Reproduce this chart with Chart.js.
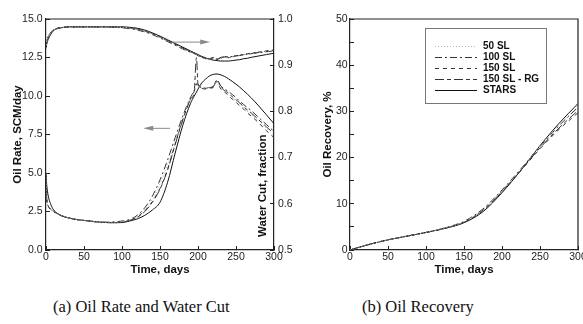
<!DOCTYPE html>
<html>
<head>
<meta charset="utf-8">
<script src="https://cdn.jsdelivr.net/npm/chart.js@4.4.1/dist/chart.umd.min.js"></script>
<style>
  body { margin: 0; background: #fff; width: 583px; height: 324px; position: relative; overflow: hidden; }
  canvas { position: absolute; top: 0; }
  #rateChart { left: 0; }
  #recChart { left: 300px; }
  .cap { position: absolute; top: 297px; line-height: 20px; font: 16.5px "Liberation Serif", "Times New Roman", serif; color: #111; white-space: nowrap; }
</style>
</head>
<body>
<canvas id="rateChart" width="300" height="280"></canvas>
<canvas id="recChart" width="283" height="280"></canvas>
<div class="cap" style="left:53px">(a) Oil Rate and Water Cut</div>
<div class="cap" style="left:362px">(b) Oil Recovery</div>

<script>
// time grid for oil rate / water cut, days
const days = [0, 1, 3, 6, 10, 15, 20, 30, 40, 50, 60, 70, 80, 90, 100, 110, 120, 130, 140, 150, 160, 170, 180, 190, 195, 198, 200, 205, 210, 215, 220, 225, 230, 235, 240, 245, 250, 255, 260, 265, 270, 280, 290, 300];

// oil rate, SCM/day
const rate50    = [4.9, 3.3, 2.85, 2.65, 2.5, 2.36, 2.23, 2.08, 1.98, 1.92, 1.86, 1.82, 1.8, 1.8, 1.84, 1.96, 2.2, 2.65, 3.3, 4.3, 5.55, 7.1, 8.6, 9.85, 10.3, 10.8, 10.72, 10.5, 10.45, 10.5, 10.55, 10.95, 10.5, 10.35, 10.15, 9.9, 9.7, 9.5, 9.25, 9.0, 8.8, 8.35, 7.9, 7.45];
const rate100   = [4.9, 3.3, 2.85, 2.65, 2.5, 2.36, 2.23, 2.08, 1.98, 1.92, 1.87, 1.83, 1.81, 1.83, 1.88, 1.98, 2.25, 2.75, 3.5, 4.55, 5.85, 7.3, 8.7, 9.9, 10.35, 10.8, 10.75, 10.55, 10.5, 10.55, 10.6, 11.0, 10.65, 10.45, 10.3, 10.1, 9.9, 9.65, 9.45, 9.25, 9.05, 8.6, 8.15, 7.7];
const rate150   = [4.9, 3.3, 2.85, 2.65, 2.5, 2.36, 2.23, 2.08, 1.98, 1.92, 1.86, 1.81, 1.78, 1.78, 1.8, 1.93, 2.15, 2.55, 3.15, 4.0, 5.25, 6.9, 8.5, 9.8, 10.3, 10.75, 10.7, 10.5, 10.45, 10.5, 10.55, 10.95, 10.45, 10.25, 10.05, 9.8, 9.6, 9.35, 9.15, 8.9, 8.7, 8.25, 7.75, 7.3];
const rate150rg = [4.9, 3.3, 2.85, 2.65, 2.5, 2.36, 2.23, 2.08, 1.98, 1.92, 1.86, 1.81, 1.78, 1.78, 1.8, 1.92, 2.12, 2.5, 3.1, 3.95, 5.2, 6.85, 8.45, 9.75, 10.3, 12.5, 10.75, 10.55, 10.5, 10.55, 10.6, 11.05, 10.6, 10.35, 10.2, 9.95, 9.75, 9.55, 9.3, 9.1, 8.9, 8.45, 8.0, 7.55];
const rateStars = [4.9, 4.2, 3.5, 3.0, 2.6, 2.38, 2.24, 2.08, 1.98, 1.92, 1.86, 1.81, 1.78, 1.77, 1.78, 1.88, 2.02, 2.25, 2.6, 3.1, 4.4, 6.3, 8.1, 9.5, 10.0, 10.25, 10.45, 10.85, 11.1, 11.3, 11.4, 11.43, 11.37, 11.27, 11.12, 10.95, 10.77, 10.57, 10.35, 10.12, 9.88, 9.35, 8.78, 8.2];

// water cut, fraction
const cut50    = [0.937, 0.950, 0.962, 0.970, 0.976, 0.980, 0.981, 0.983, 0.983, 0.983, 0.983, 0.983, 0.983, 0.983, 0.982, 0.980, 0.977, 0.973, 0.967, 0.960, 0.952, 0.944, 0.936, 0.929, 0.925, 0.923, 0.921, 0.917, 0.914, 0.913, 0.915, 0.912, 0.915, 0.918, 0.917, 0.918, 0.920, 0.921, 0.922, 0.924, 0.925, 0.927, 0.930, 0.932];
const cut100   = [0.937, 0.950, 0.962, 0.970, 0.976, 0.980, 0.981, 0.983, 0.983, 0.983, 0.983, 0.983, 0.983, 0.982, 0.981, 0.979, 0.976, 0.972, 0.966, 0.959, 0.951, 0.943, 0.935, 0.928, 0.925, 0.923, 0.921, 0.918, 0.915, 0.914, 0.917, 0.913, 0.915, 0.918, 0.918, 0.919, 0.920, 0.921, 0.922, 0.924, 0.925, 0.927, 0.929, 0.931];
const cut150   = [0.937, 0.950, 0.962, 0.970, 0.976, 0.980, 0.981, 0.983, 0.983, 0.983, 0.983, 0.983, 0.983, 0.983, 0.982, 0.981, 0.978, 0.974, 0.968, 0.961, 0.953, 0.945, 0.937, 0.929, 0.925, 0.923, 0.921, 0.917, 0.914, 0.913, 0.916, 0.912, 0.916, 0.919, 0.917, 0.918, 0.920, 0.922, 0.923, 0.924, 0.925, 0.928, 0.930, 0.932];
const cut150rg = [0.937, 0.950, 0.962, 0.970, 0.976, 0.980, 0.981, 0.983, 0.983, 0.983, 0.983, 0.983, 0.983, 0.983, 0.982, 0.981, 0.978, 0.973, 0.969, 0.961, 0.953, 0.945, 0.937, 0.929, 0.926, 0.924, 0.921, 0.918, 0.915, 0.912, 0.914, 0.913, 0.917, 0.918, 0.916, 0.919, 0.921, 0.921, 0.923, 0.925, 0.926, 0.928, 0.931, 0.933];
const cutStars = [0.937, 0.946, 0.956, 0.966, 0.975, 0.979, 0.981, 0.983, 0.983, 0.983, 0.983, 0.983, 0.983, 0.983, 0.983, 0.982, 0.980, 0.976, 0.970, 0.963, 0.955, 0.947, 0.939, 0.931, 0.927, 0.925, 0.923, 0.919, 0.916, 0.913, 0.911, 0.910, 0.909, 0.909, 0.909, 0.910, 0.911, 0.912, 0.914, 0.915, 0.917, 0.920, 0.923, 0.926];

// oil recovery, %
const recDays     = [0, 25, 50, 75, 100, 125, 150, 175, 200, 225, 250, 275, 300];
const rec50       = [0, 1.2, 2.2, 3.0, 3.8, 4.8, 6.1, 8.7, 12.8, 17.5, 22.5, 27.0, 31.2];
const rec100      = [0, 1.2, 2.2, 3.0, 3.8, 4.8, 6.2, 8.9, 13.0, 17.6, 22.4, 26.9, 30.9];
const rec150      = [0, 1.2, 2.2, 3.0, 3.8, 4.7, 6.0, 8.6, 12.6, 17.2, 21.9, 26.1, 29.7];
const rec150rg    = [0, 1.2, 2.2, 3.0, 3.8, 4.7, 6.0, 8.6, 12.7, 17.3, 22.1, 26.4, 30.2];
const recStars    = [0, 1.2, 2.2, 3.0, 3.8, 4.7, 5.9, 8.3, 12.4, 17.3, 22.6, 27.4, 31.7];

const seriesLabels = ["50 SL", "100 SL", "150 SL", "150 SL - RG", "STARS"];
const xTicks = [0, 50, 100, 150, 200, 250, 300];

const seriesStyle = [
    { color: "#b5b5b5", dash: [1, 2] },
    { color: "#333", dash: [7, 3, 2, 3] },
    { color: "#333", dash: [4, 4] },
    { color: "#333", dash: [9, 3, 4, 3] },
    { color: "#111", dash: [] }
];

const sans = "'Liberation Sans', Arial, Helvetica, sans-serif";
const tickFont = { family: sans, size: 10.5 };
const titleFont = { family: sans, size: 11.5, weight: "bold" };
const ink = "#222";

function pts(xs, ys) {
    return xs.map((x, i) => ({ x: x, y: ys[i] }));
}

function lineSet(i, xs, ys, axis) {
    return {
        label: seriesLabels[i],
        data: pts(xs, ys),
        yAxisID: axis,
        borderColor: seriesStyle[i].color,
        borderDash: seriesStyle[i].dash,
        borderWidth: 1,
        pointRadius: 0,
        fill: false,
        cubicInterpolationMode: "monotone"
    };
}

// x axis shared by both panels
function timeAxis() {
    return {
        type: "linear",
        min: 0,
        max: 300,
        afterBuildTicks: s => { s.ticks = xTicks.map(v => ({ value: v })); },
        ticks: { font: tickFont, color: ink, padding: 5, maxRotation: 0 },
        grid: { drawOnChartArea: false, tickLength: -4, color: ink },
        border: { color: ink, width: 1.2 },
        title: { display: true, text: "Time, days", font: titleFont, color: "#111", padding: { top: 0, bottom: 3 } },
        afterFit: s => { s.height = 30; s.paddingLeft = 0; s.paddingRight = 0; }
    };
}

// closes the plot box on top (and right when asked)
const framePlugin = {
    id: "frame",
    afterDraw(chart, args, opts) {
        const { ctx, chartArea: a } = chart;
        ctx.save();
        ctx.strokeStyle = ink;
        ctx.lineWidth = 1.2;
        ctx.beginPath();
        ctx.moveTo(a.left, a.top);
        ctx.lineTo(a.right, a.top);
        if (opts.right) ctx.lineTo(a.right, a.bottom);
        ctx.stroke();
        ctx.restore();
    }
};

// arrows pointing each curve family to its axis
const arrowPlugin = {
    id: "arrows",
    afterDatasetsDraw(chart, args, opts) {
        const { ctx, scales } = chart;
        const x = scales.x, y = scales.y;
        ctx.save();
        ctx.strokeStyle = "#8a8a8a";
        ctx.fillStyle = "#8a8a8a";
        ctx.lineWidth = 1;
        for (const a of opts.items) {
            const x0 = x.getPixelForValue(a.from[0]), y0 = y.getPixelForValue(a.from[1]);
            const x1 = x.getPixelForValue(a.to[0]), y1 = y.getPixelForValue(a.to[1]);
            const dir = Math.sign(x1 - x0);
            ctx.beginPath();
            ctx.moveTo(x0, y0);
            ctx.lineTo(x1 - dir * 8, y1);
            ctx.stroke();
            ctx.beginPath();
            ctx.moveTo(x1, y1);
            ctx.lineTo(x1 - dir * 10, y1 - 2.5);
            ctx.lineTo(x1 - dir * 10, y1 + 2.5);
            ctx.closePath();
            ctx.fill();
        }
        ctx.restore();
    }
};

// right-axis title sits inside the plot, next to the axis line
const cutTitlePlugin = {
    id: "cutTitle",
    afterDraw(chart) {
        const { ctx, chartArea: a } = chart;
        ctx.save();
        ctx.translate(a.right - 11, a.bottom - 13);
        ctx.rotate(-Math.PI / 2);
        ctx.font = "bold 11.5px " + sans;
        ctx.fillStyle = "#111";
        ctx.textAlign = "left";
        ctx.textBaseline = "middle";
        ctx.fillText("Water Cut, fraction", 0, 0);
        ctx.restore();
    }
};

// boxed legend inside the recovery plot
const boxLegendPlugin = {
    id: "boxLegend",
    afterDraw(chart) {
        const { ctx, chartArea: a } = chart;
        const left = a.left + 75, top = a.top + 9, w = 121, h = 75;
        ctx.save();
        ctx.strokeStyle = "#777";
        ctx.lineWidth = 1;
        ctx.strokeRect(left + 0.5, top + 0.5, w, h);
        ctx.font = "bold 10px " + sans;
        ctx.textBaseline = "middle";
        chart.data.datasets.forEach((ds, i) => {
            const yy = Math.round(top + 18 + i * 11) + 0.5;
            ctx.strokeStyle = ds.borderColor;
            ctx.setLineDash(ds.borderDash);
            ctx.beginPath();
            ctx.moveTo(left + 10, yy);
            ctx.lineTo(left + 52, yy);
            ctx.stroke();
            ctx.setLineDash([]);
            ctx.fillStyle = "#111";
            ctx.fillText(ds.label, left + 58, yy);
        });
        ctx.restore();
    }
};

new Chart(document.getElementById("rateChart"), {
    type: "line",
    data: {
        datasets: [
            lineSet(0, days, rate50, "y"),
            lineSet(1, days, rate100, "y"),
            lineSet(2, days, rate150, "y"),
            lineSet(3, days, rate150rg, "y"),
            lineSet(4, days, rateStars, "y"),
            lineSet(0, days, cut50, "y1"),
            lineSet(1, days, cut100, "y1"),
            lineSet(2, days, cut150, "y1"),
            lineSet(3, days, cut150rg, "y1"),
            lineSet(4, days, cutStars, "y1")
        ]
    },
    options: {
        responsive: false,
        animation: false,
        events: [],
        layout: { padding: { top: 19, left: 0, right: 0, bottom: 0 } },
        plugins: {
            legend: { display: false },
            tooltip: { enabled: false },
            arrows: { items: [ { from: [167, 13.5], to: [216, 13.5] }, { from: [163, 7.9], to: [128, 7.9] } ] },
            frame: { right: false }
        },
        scales: {
            x: timeAxis(),
            y: {
                position: "left",
                min: 0,
                max: 15,
                ticks: { stepSize: 2.5, font: tickFont, color: ink, padding: 7.5, callback: v => v.toFixed(1) },
                grid: { drawOnChartArea: false, tickLength: -4, color: ink },
                border: { color: ink, width: 1.2 },
                title: { display: true, text: "Oil Rate, SCM/day", font: titleFont, color: "#111", padding: { top: 11, bottom: 0 } },
                afterFit: s => { s.width = 46; }
            },
            y1: {
                position: "right",
                min: 0.5,
                max: 1.0,
                ticks: { stepSize: 0.1, font: tickFont, color: ink, padding: 8, callback: v => v.toFixed(1) },
                grid: { drawOnChartArea: false, tickLength: -4, color: ink },
                border: { color: ink, width: 1.2 },
                afterFit: s => { s.width = 26; }
            }
        }
    },
    plugins: [framePlugin, arrowPlugin, cutTitlePlugin]
});

new Chart(document.getElementById("recChart"), {
    type: "line",
    data: {
        datasets: [
            lineSet(0, recDays, rec50, "y"),
            lineSet(1, recDays, rec100, "y"),
            lineSet(2, recDays, rec150, "y"),
            lineSet(3, recDays, rec150rg, "y"),
            lineSet(4, recDays, recStars, "y")
        ]
    },
    options: {
        responsive: false,
        animation: false,
        events: [],
        layout: { padding: { top: 19, left: 0, right: 5, bottom: 0 } },
        plugins: {
            legend: { display: false },
            tooltip: { enabled: false },
            frame: { right: true }
        },
        scales: {
            x: timeAxis(),
            y: {
                position: "left",
                min: 0,
                max: 50,
                ticks: { stepSize: 5, font: tickFont, color: ink, padding: 6.3, callback: v => (v % 10 === 0 ? v : "") },
                grid: { drawOnChartArea: false, tickLength: -4, color: ink },
                border: { color: ink, width: 1.2 },
                title: { display: true, text: "Oil Recovery, %", font: titleFont, color: "#111", padding: { top: 21, bottom: 0 } },
                afterFit: s => { s.width = 50; }
            }
        }
    },
    plugins: [framePlugin, boxLegendPlugin]
});
</script>
</body>
</html>
